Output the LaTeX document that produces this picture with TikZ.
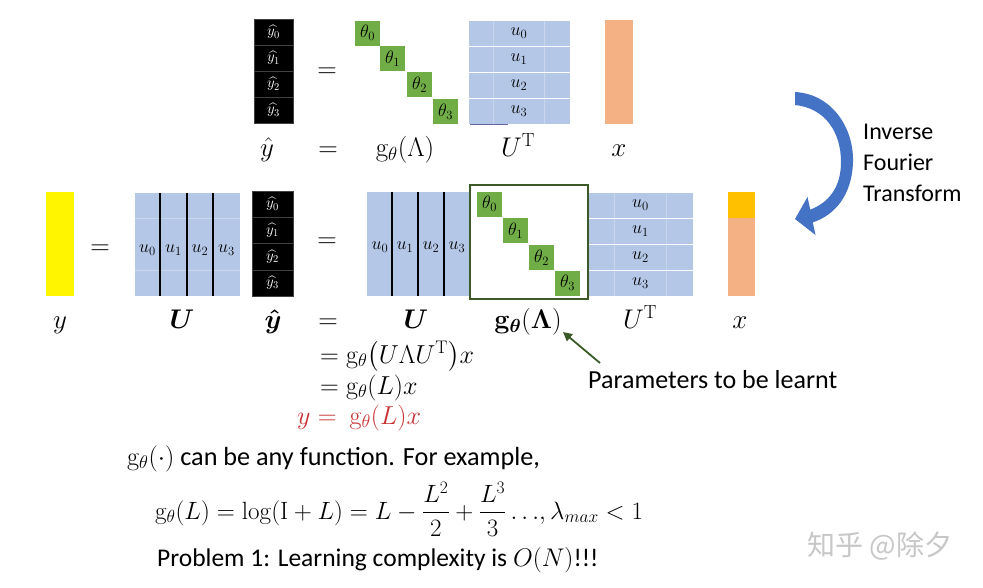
\RequirePackage{fix-cm}
\documentclass[tikz,border=0pt]{standalone}
\usepackage{amsmath,bm}
\usepackage[no-math]{fontspec}
\setmainfont{Carlito}
\newfontfamily\cjk{Noto Sans CJK SC}
\usetikzlibrary{arrows.meta}
\definecolor{lblue}{HTML}{B4C7E7}
\definecolor{gthe}{HTML}{70AD47}
\definecolor{orng}{HTML}{F4B183}
\definecolor{gold}{HTML}{FFC000}
\definecolor{dgreen}{HTML}{3B5A28}
\definecolor{abl}{HTML}{4472C4}
\definecolor{redt}{HTML}{C83232}
\definecolor{yel}{HTML}{FFF500}
\newcommand\szS{\fontsize{18}{21}\selectfont}
\newcommand\szH{\fontsize{15}{18}\selectfont}
\newcommand\szM{\fontsize{27}{32}\selectfont}
\newcommand\szE{\fontsize{26}{31}\selectfont}
\newcommand\szF{\fontsize{25}{30}\selectfont}
\newcommand\szT{\fontsize{25.5}{31}\selectfont}
\newcommand\szU{\fontsize{26.2}{31}\selectfont}
\newcommand\szP{\fontsize{26}{31}\selectfont}
\newcommand\szI{\fontsize{24}{31}\selectfont}
\newcommand\szW{\fontsize{28}{32}\selectfont}
\begin{document}
\begin{tikzpicture}[x=1pt,y=-1pt,
 cell/.style={inner sep=0pt,outer sep=0pt},
 blk/.style={cell,fill=black,draw=black!75,text=white,font=\szH},
 thb/.style={cell,fill=gthe,minimum width=25pt,minimum height=25pt,font=\szS},
 brow/.style={cell,fill=lblue,draw=white,line width=1pt,minimum height=26pt,font=\szS},
 ulab/.style={inner sep=0pt,font=\szS},
 lab/.style={inner sep=0pt,anchor=base,font=\szM},
 txt/.style={inner sep=0pt,anchor=base west,font=\szT},
 sep/.style={white,opacity=0.3,line width=0.8pt},
 col/.style={line width=2.5pt,black},
]
\fill[white] (0,0) rectangle (983,587);
\useasboundingbox (0,0) rectangle (983,587);

% ---------- top row ----------
\foreach \i in {0,...,3}
  \node[blk,minimum width=39pt,minimum height=26pt] (ty\i) at (273.5,{32+26*\i}) {$\widehat{y_\i}$};
\node[lab,anchor=center] (teq) at (327,73) {$=$};
\foreach \i/\px/\py in {0/367.5/33,1/392.5/58.5,2/419.5/84.5,3/445.5/111.5}
  \node[thb] (tt\i) at (\px,\py) {$\theta_\i$};
\foreach \i in {0,...,3}
  \node[brow,minimum width=102pt] (tu\i) at (519,{33+26*\i}) {};
\draw[sep] (493.5,20) -- (493.5,124) (544.5,20) -- (544.5,124);
\foreach \i in {0,...,3}
  \node[ulab] (tul\i) at (tu\i) {$u_\i$};
\draw[black!60!blue!60, line width=1pt] ([xshift=2pt]tu3.south west) -- ++(38,0);
\node[cell,fill=orng,minimum width=28pt,minimum height=104pt] (tx) at (619,72) {};

\node[lab] (l1y) at (267,156) {$\hat{y}$};
\node[lab] (l1eq) at (328,156) {$=$};
\node[lab] (l1g) at (405,156) {$\mathrm{g}_\theta(\Lambda)$};
\node[lab] (l1u) at (518,156) {$U^{\mathrm{T}}$};
\node[lab] (l1x) at (619,156) {$x$};

% ---------- inverse Fourier arrow ----------
\fill[abl] (795,92) .. controls (832,94) and (854,128) .. (853,162)
  .. controls (852,195) and (835,215) .. (812.8,222.4)
  -- (815.5,235) -- (795,219) -- (807.5,197) -- (810.2,209.6)
  .. controls (828,203) and (841,188) .. (841,162)
  .. controls (841,132) and (825,108) .. (795,105) -- cycle;
\node[txt,font=\szI] (inv1) at (863,139) {Inverse};
\node[txt,font=\szI] (inv2) at (863,170) {Fourier};
\node[txt,font=\szI] (inv3) at (863,201) {Transform};

% ---------- middle row ----------
\node[cell,fill=yel,minimum width=28pt,minimum height=104pt] (my) at (60,244) {};
\node[lab,anchor=center] (meq1) at (100,250) {$=$};
\node[cell,fill=lblue,minimum width=105pt,minimum height=103pt] (mU) at (187.5,244.5) {};
\draw[sep] (135,218) -- (240,218) (135,270) -- (240,270);
\draw[col] (160,193) -- (160,296) (187,193) -- (187,296) (213,193) -- (213,296);
\foreach \i/\px in {0/147.5,1/173.5,2/200,3/226.5}
  \node[ulab] (mul\i) at (\px,250) {$u_\i$};
\foreach \i in {0,...,3}
  \node[blk,minimum width=41pt,minimum height=26.25pt] (my\i) at (272.5,{204.1+26.25*\i}) {$\widehat{y_\i}$};
\node[lab,anchor=center] (meq2) at (327,243) {$=$};

\node[cell,fill=lblue,minimum width=103pt,minimum height=104pt] (bU) at (418.5,244) {};
\draw[col] (392,192) -- (392,296) (418,192) -- (418,296) (444,192) -- (444,296);
\foreach \i/\px in {0/380,1/405,2/431,3/457}
  \node[ulab] (bul\i) at (\px,247) {$u_\i$};
\foreach \i in {0,...,3}
  \node[brow,minimum width=105pt] (bu\i) at (640.5,{205+26*\i}) {};
\draw[sep] (614.5,192) -- (614.5,296) (666.5,192) -- (666.5,296);
\foreach \i in {0,...,3}
  \node[ulab] (bull\i) at (bu\i) {$u_\i$};
\node[cell,draw=dgreen,line width=2pt,fill=white,minimum width=118pt,minimum height=114pt] (gbox) at (529,242) {};
\foreach \i/\px/\py in {0/489.5/204,1/515.5/230.5,2/541.5/257.5,3/567.5/283}
  \node[thb] (bt\i) at (\px,\py) {$\theta_\i$};
\node[cell,fill=gold,minimum width=27pt,minimum height=26pt] (bx0) at (741.5,205) {};
\node[cell,fill=orng,minimum width=27pt,minimum height=78pt] (bx1) at (741.5,257) {};

\node[lab] (l2y) at (60,328) {$y$};
\node[lab] (l2U) at (182,328) {$\bm{U}$};
\node[lab] (l2yh) at (273,328) {$\bm{\hat{y}}$};
\node[lab] (l2eq) at (328,328) {$=$};
\node[lab] (l2U2) at (416,328) {$\bm{U}$};
\node[lab] (l2g) at (528,328) {$\mathbf{g}_{\bm{\theta}}(\bm{\Lambda})$};
\node[lab] (l2ut) at (640,328) {$U^{\mathrm{T}}$};
\node[lab] (l2x) at (740,328) {$x$};

% ---------- equations ----------
\node[txt,font=\szE] (e1) at (320,363) {$=\mathrm{g}_\theta\bigl(U\Lambda U^{\mathrm{T}}\bigr)x$};
\node[txt,font=\szE] (e2) at (320,394) {$=\mathrm{g}_\theta(L)x$};
\node[txt,font=\szE,text=redt] (e3) at (297,424) {$y=\ \mathrm{g}_\theta(L)x$};

\node[txt,font=\szP] (ptext) at (588,388) {Parameters to be learnt};
\coordinate (ptail) at (600,363);
\coordinate (phead) at (563,332);
\draw[dgreen,line width=1.8pt,-{Triangle[length=9pt,width=9pt]}] (ptail) -- (phead);

% ---------- bottom text ----------
\node[txt,font=\szU] (t1) at (127,465) {$\mathrm{g}_\theta(\cdot)$ can be any function. For example,};
\node[txt,font=\szF] (t2) at (155,519) {$\displaystyle \mathrm{g}_\theta(L)=\log(\mathrm{I}+L)=L-\frac{L^2}{2}+\frac{L^3}{3}\,{\ldots},\lambda_{max}<1$};
\node[txt] (t3) at (157,566) {Problem 1: Learning complexity is $O(N)$!!!};

\node[inner sep=0pt,font=\szW\cjk,text=black!22] (wm) at (880,546) {知乎 @除夕};
\end{tikzpicture}
\end{document}
